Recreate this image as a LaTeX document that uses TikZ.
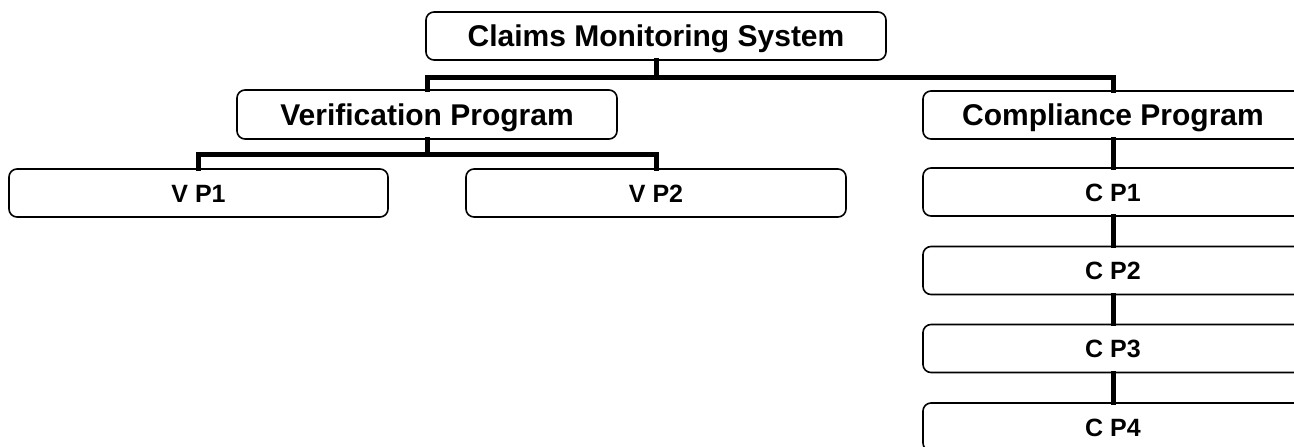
\documentclass[tikz,border=0pt]{standalone}
\usepackage{fontspec}
\setmainfont{Liberation Sans}
\begin{document}
\begin{tikzpicture}[x=1pt,y=-1pt,
  box/.style={draw=black,line width=1.6pt,rounded corners=8pt,inner sep=0pt,anchor=center,align=center},
  bigbox/.style={box,font=\fontsize{30}{33}\selectfont\bfseries,text height=21.5pt,text depth=0pt},
  smallbox/.style={box,font=\fontsize{25}{28}\selectfont\bfseries,text height=18pt,text depth=0pt},
  conn/.style={line width=5pt,line cap=rect,line join=miter}]
\useasboundingbox (0,0) rectangle (1294,447);
\clip (0,0) rectangle (1294,447);
\node[bigbox,minimum width=460pt,minimum height=48pt] (top) at (656,36) {Claims Monitoring System};
\node[bigbox,minimum width=380pt,minimum height=49pt] (verif) at (427,114.5) {Verification Program};
\node[bigbox,minimum width=380pt,minimum height=48pt] (comp) at (1113,115) {Compliance Program};
\node[smallbox,minimum width=379pt,minimum height=48pt] (vp1) at (198.5,193) {V P1};
\node[smallbox,minimum width=380pt,minimum height=48pt] (vp2) at (656,193) {V P2};
\node[smallbox,minimum width=380pt,minimum height=48pt] (cp1) at (1113,192) {C P1};
\node[smallbox,minimum width=380pt,minimum height=48pt] (cp2) at (1113,270.5) {C P2};
\node[smallbox,minimum width=380pt,minimum height=48pt] (cp3) at (1113,348.5) {C P3};
\node[smallbox,minimum width=380pt,minimum height=48pt] (cp4) at (1113,427) {C P4};
\coordinate (b1) at (656,77);
\coordinate (b2) at (427,154);
\draw[conn] (top.south) -- (b1);
\draw[conn] (verif.north) |- (b1) -| (comp.north);
\draw[conn] (verif.south) -- (b2);
\draw[conn] (vp1.north) |- (b2) -| (vp2.north);
\draw[conn] (comp.south) -- (cp1.north);
\draw[conn] (cp1.south) -- (cp2.north);
\draw[conn] (cp2.south) -- (cp3.north);
\draw[conn] (cp3.south) -- (cp4.north);
\end{tikzpicture}
\end{document}
